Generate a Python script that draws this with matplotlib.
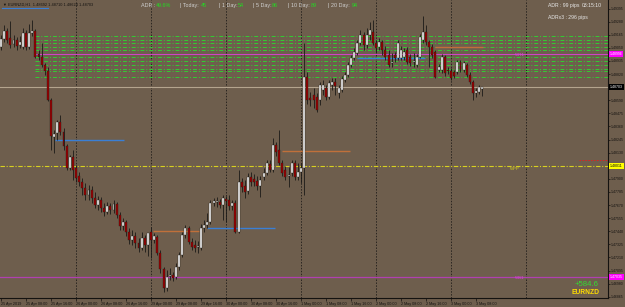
import matplotlib
matplotlib.use("Agg")
import matplotlib.pyplot as plt
import matplotlib.transforms as mtransforms
import numpy as np

# ---------------- data ----------------
bar_open = [1.49057,1.49128,1.49198,1.49136,1.49084,1.49119,1.49075,1.49057,1.49180,1.49057,
            1.49180,1.49198,1.48996,1.48970,1.48899,1.48847,1.48592,1.48267,1.48302,1.48399,
            1.48311,1.48188,1.47995,1.48092,1.47995,1.47925,1.47872,1.47819,1.47758,1.47802,
            1.47732,1.47670,1.47714,1.47644,1.47609,1.47661,1.47626,1.47679,1.47582,1.47486,
            1.47521,1.47433,1.47363,1.47398,1.47336,1.47293,1.47380,1.47319,1.47433,1.47363,
            1.47389,1.47249,1.47108,1.46941,1.47047,1.47056,1.47038,1.47126,1.47231,1.47407,
            1.47468,1.47345,1.47319,1.47301,1.47293,1.47468,1.47495,1.47521,1.47688,1.47696,
            1.47696,1.47670,1.47723,1.47714,1.47661,1.47688,1.47433,1.47872,1.47837,1.47793,
            1.47916,1.47898,1.47881,1.47837,1.47916,1.47951,1.48030,1.47977,1.48197,1.48153,
            1.48039,1.47977,1.47925,1.47951,1.48039,1.47916,1.47960,1.47995,1.48794,1.48610,
            1.48636,1.48618,1.48592,1.48680,1.48697,1.48618,1.48724,1.48750,1.48653,1.48680,
            1.48768,1.48812,1.48899,1.48961,1.49005,1.49092,1.49163,1.49075,1.49163,1.49189,
            1.49092,1.49057,1.49101,1.49031,1.48987,1.48917,1.48987,1.48961,1.48961,1.48970,
            1.49031,1.48970,1.48926,1.48899,1.48970,1.49119,1.49189,1.49101,1.49057,1.49013,
            1.48855,1.48855,1.48970,1.48855,1.48847,1.48838,1.48838,1.48926,1.48855,1.48899,
            1.48812,1.48750,1.48653,1.48662,1.48692]
bar_high = [1.49163,1.49251,1.49224,1.49286,1.49163,1.49145,1.49154,1.49224,1.49207,1.49259,
            1.49294,1.49215,1.49031,1.49092,1.48917,1.48882,1.48610,1.48329,1.48416,1.48460,
            1.48346,1.48206,1.48109,1.48153,1.48021,1.47960,1.47907,1.47863,1.47846,1.47837,
            1.47784,1.47749,1.47740,1.47688,1.47696,1.47688,1.47714,1.47696,1.47609,1.47556,
            1.47538,1.47468,1.47451,1.47433,1.47380,1.47433,1.47407,1.47398,1.47477,1.47424,
            1.47407,1.47275,1.47126,1.47099,1.47117,1.47082,1.47161,1.47257,1.47433,1.47495,
            1.47486,1.47380,1.47363,1.47354,1.47503,1.47538,1.47600,1.47714,1.47732,1.47740,
            1.47723,1.47758,1.47749,1.47758,1.47714,1.47714,1.47977,1.47907,1.47890,1.47951,
            1.47960,1.47942,1.47925,1.47925,1.47995,1.48065,1.48065,1.48258,1.48223,1.48329,
            1.48065,1.48012,1.48004,1.48065,1.48065,1.48039,1.48039,1.49092,1.48838,1.48662,
            1.48697,1.48653,1.48750,1.48768,1.48724,1.48768,1.48785,1.48785,1.48724,1.48803,
            1.48838,1.48926,1.48987,1.49049,1.49119,1.49207,1.49189,1.49224,1.49277,1.49294,
            1.49119,1.49136,1.49119,1.49066,1.49031,1.49005,1.49013,1.49119,1.49066,1.49049,
            1.49057,1.48996,1.49005,1.48996,1.49171,1.49330,1.49251,1.49119,1.49084,1.49031,
            1.48908,1.48996,1.48987,1.48882,1.48873,1.48855,1.48943,1.48943,1.48934,1.48917,
            1.48838,1.48768,1.48697,1.48724,1.48710]
bar_low = [1.49031,1.49101,1.49092,1.49049,1.49057,1.49031,1.49049,1.49040,1.49031,1.49040,
           1.49154,1.48961,1.48943,1.48882,1.48812,1.48583,1.48153,1.48127,1.48241,1.48285,
           1.48153,1.47977,1.47977,1.47890,1.47872,1.47837,1.47758,1.47714,1.47714,1.47688,
           1.47644,1.47626,1.47609,1.47574,1.47591,1.47591,1.47600,1.47556,1.47451,1.47451,
           1.47398,1.47328,1.47319,1.47293,1.47257,1.47275,1.47257,1.47222,1.47205,1.47336,
           1.47231,1.47073,1.46906,1.46915,1.47012,1.47003,1.47020,1.47099,1.47214,1.47380,
           1.47328,1.47275,1.47257,1.47249,1.47275,1.47433,1.47468,1.47503,1.47661,1.47653,
           1.47644,1.47538,1.47521,1.47626,1.47626,1.47424,1.47424,1.47784,1.47732,1.47767,
           1.47837,1.47837,1.47802,1.47740,1.47890,1.47934,1.47960,1.47960,1.48100,1.48021,
           1.47925,1.47890,1.47828,1.47925,1.47890,1.47890,1.47863,1.47758,1.48557,1.48539,
           1.48522,1.48487,1.48548,1.48636,1.48592,1.48601,1.48680,1.48636,1.48610,1.48662,
           1.48750,1.48794,1.48882,1.48943,1.48987,1.49075,1.49031,1.49049,1.49119,1.49075,
           1.49013,1.49031,1.48987,1.48943,1.48882,1.48882,1.48926,1.48943,1.48943,1.48943,
           1.48908,1.48891,1.48882,1.48882,1.48961,1.49092,1.49075,1.48882,1.48961,1.48785,
           1.48838,1.48829,1.48803,1.48820,1.48768,1.48785,1.48820,1.48838,1.48838,1.48794,
           1.48732,1.48592,1.48618,1.48645,1.48624]
bar_close = [1.49128,1.49198,1.49119,1.49075,1.49119,1.49066,1.49101,1.49180,1.49057,1.49180,
             1.49198,1.48970,1.48970,1.48899,1.48847,1.48592,1.48276,1.48293,1.48399,1.48311,
             1.48188,1.47995,1.48092,1.47977,1.47907,1.47872,1.47819,1.47758,1.47802,1.47732,
             1.47670,1.47714,1.47644,1.47609,1.47661,1.47626,1.47679,1.47582,1.47486,1.47521,
             1.47433,1.47363,1.47398,1.47336,1.47293,1.47380,1.47319,1.47424,1.47363,1.47398,
             1.47249,1.47108,1.46941,1.47038,1.47056,1.47029,1.47126,1.47231,1.47407,1.47468,
             1.47345,1.47301,1.47293,1.47310,1.47468,1.47495,1.47521,1.47688,1.47705,1.47705,
             1.47670,1.47732,1.47705,1.47661,1.47688,1.47433,1.47872,1.47828,1.47784,1.47916,
             1.47872,1.47872,1.47837,1.47890,1.47951,1.48039,1.47977,1.48197,1.48135,1.48039,
             1.47951,1.47916,1.47934,1.48039,1.47916,1.47960,1.47995,1.48794,1.48592,1.48592,
             1.48592,1.48504,1.48724,1.48724,1.48618,1.48741,1.48750,1.48715,1.48697,1.48776,
             1.48812,1.48899,1.48961,1.49013,1.49092,1.49163,1.49075,1.49163,1.49207,1.49092,
             1.49049,1.49101,1.49031,1.48970,1.48899,1.48926,1.48961,1.49092,1.49031,1.49013,
             1.48926,1.48917,1.48934,1.48970,1.49145,1.49189,1.49101,1.49057,1.48987,1.48794,
             1.48882,1.48970,1.48829,1.48847,1.48785,1.48803,1.48926,1.48855,1.48917,1.48812,
             1.48750,1.48653,1.48671,1.48706,1.48703]

price_ticks = [1.46865,1.46980,1.47095,1.47210,1.47325,1.47440,1.47555,1.47670,1.47785,1.47900,
               1.48015,1.48130,1.48245,1.48360,1.48475,1.48590,1.48705,1.48820,1.48935,1.49050,
               1.49165,1.49280,1.49395]
date_tick_bars = [0,8,16,24,32,40,48,56,64,72,80,88,96,104,112,120,128,136,144,152]
date_tick_labels = ["25 Apr 2019","25 Apr 08:00","25 Apr 16:00","26 Apr 00:00","26 Apr 08:00",
                    "26 Apr 16:00","29 Apr 00:00","29 Apr 08:00","29 Apr 16:00","30 Apr 00:00",
                    "30 Apr 08:00","30 Apr 16:00","1 May 00:00","1 May 08:00","1 May 16:00",
                    "2 May 00:00","2 May 08:00","2 May 16:00","3 May 00:00","3 May 08:00"]
day_separators = [24,48,72,96,120,144,168]

green_levels = [1.49154,1.49119,1.49092,1.49053,1.49031,1.48970,1.48934,1.48899,1.48868,1.48847,1.48794]
magenta_level = 1.48996
current_price = 1.48703
wpp_level = 1.48011
red_level = 1.48065
s1_level = 1.47035

seg_start = [17.3, 48.6, 66.0, 90.0, 114.0, 139.0]
seg_end = [39.4, 63.4, 87.7, 111.7, 135.7, 154.3]
seg_price = [1.48245, 1.47442, 1.47468, 1.48144, 1.48961, 1.49057]
seg_color = ["#3a7fd5", "#c0703a", "#3a7fd5", "#c0703a", "#3a7fd5", "#c0703a"]

adr_items = [("Today:", "45"), ("1 Day:", "54"), ("5 Day:", "86"), ("10 Day:", "89"), ("20 Day:", "94")]

# ---------------- figure ----------------
W, H = 625, 307
BG = "#6e5e4d"
fig = plt.figure(figsize=(W / 100, H / 100), dpi=100, facecolor=BG)
ax = fig.add_axes([0, (H - 297.5) / H, 608 / W, 297.5 / H])
ax.set_facecolor(BG)

n = len(bar_open)
xs = np.arange(n)
ax.set_xlim(-0.32, 194.2)
ax.set_ylim(1.46858, 1.49470)

FONT = "Liberation Sans"

# day separators
for d in day_separators:
    ax.axvline(d, color="#2a2520", lw=0.7, ls=(0, (1.5, 1.5)), zorder=1)

# levels
for lv in green_levels:
    ax.axhline(lv, xmin=35 / 608, color="#33cc33", lw=0.7, ls=(0, (4, 2, 1, 2)), zorder=2)
ax.axhline(magenta_level, xmin=35 / 608, color="#e040e0", lw=0.6, zorder=2)
ax.axhline(current_price, color="#b4a48e", lw=0.8, zorder=2)
ax.axhline(wpp_level, color="#d8d020", lw=0.8, ls=(0, (4, 1.5, 1, 1.5)), zorder=2)
ax.axhline(s1_level, color="#b040b0", lw=0.9, zorder=2)
ax.plot([185, 194.2], [red_level, red_level], color="#e02020", lw=0.7, ls=(0, (1.5, 1.5)), zorder=2)

for s, e, p, c in zip(seg_start, seg_end, seg_price, seg_color):
    ax.plot([s, e], [p, p], color=c, lw=1.0, zorder=3, solid_capstyle="butt")

# candles
o = np.array(bar_open); h = np.array(bar_high); l = np.array(bar_low); c = np.array(bar_close)
ax.vlines(xs, l, h, color="#1c1a18", lw=0.6, zorder=4)
bull = c >= o
body_bottom = np.minimum(o, c)
body_h = np.maximum(np.abs(c - o), 0.00003)
ax.bar(xs[bull], body_h[bull], bottom=body_bottom[bull], width=0.62, color="#f2f2f2",
       edgecolor="#1c1a18", linewidth=0.25, zorder=5)
ax.bar(xs[~bull], body_h[~bull], bottom=body_bottom[~bull], width=0.62, color="#9a0000",
       edgecolor="#1c1a18", linewidth=0.25, zorder=5)

# axes styling
for sp in ["top", "left"]:
    ax.spines[sp].set_visible(False)
ax.spines["right"].set_color("#141210")
ax.spines["bottom"].set_color("#141210")
ax.spines["right"].set_linewidth(0.8)
ax.spines["bottom"].set_linewidth(0.8)
ax.yaxis.tick_right()
ax.set_yticks(price_ticks)
covered = {1.48015, 1.48705}
ax.set_yticklabels(["" if v in covered else f"{v:.5f}" for v in price_ticks],
                   fontsize=2.5, color="#141210", family=FONT)
ax.tick_params(axis="y", length=1.2, width=0.5, color="#141210", pad=0.6)
ax.set_xticks(date_tick_bars)
ax.set_xticklabels(date_tick_labels, fontsize=2.7, color="#141210", family=FONT, ha="left")
ax.tick_params(axis="x", length=2, width=0.5, color="#141210", pad=1.5)

# price boxes on axis
tr = mtransforms.blended_transform_factory(ax.transAxes, ax.transData)
def box(price, text, fc, tc):
    ax.text(1.003, price, text, transform=tr, fontsize=2.5, color=tc, family=FONT,
            va="center", ha="left", clip_on=False, zorder=10,
            bbox=dict(boxstyle="square,pad=0.3", fc=fc, ec="none"))
box(magenta_level, "1.48996", "#ff00ff", "#ffffff")
box(current_price, "1.48703", "#000000", "#ffffff")
box(wpp_level, "1.48011", "#ffff00", "#000000")
box(s1_level, "1.47035", "#ff00ff", "#ffffff")

def px(x, y):
    return x / W, 1 - y / H

# header
fig.text(*px(3, 5), "\u25bc EURNZD,H1  1.48692 1.48710 1.48624 1.48703", fontsize=2.8,
         color="#141210", family=FONT, va="center")
fig.add_artist(plt.Line2D([2 / W, 48 / W], [1 - 7.5 / H, 1 - 7.5 / H], color="#3a7fd5", lw=0.8))

# ADR line at top
fs = 3.9
fig.text(*px(141, 5.5), "ADR :", fontsize=fs, color="#d0d0d0", family=FONT, va="center")
fig.text(*px(156, 5.5), "49.6%", fontsize=fs, color="#22dd22", family=FONT, va="center")
xpos = [180, 219, 253, 288, 328]
offs = [21, 19, 19, 23, 24]
for (lab, val), x0, off in zip(adr_items, xpos, offs):
    fig.text(*px(x0, 5.5), "| " + lab, fontsize=fs, color="#d0d0d0", family=FONT, va="center")
    fig.text(*px(x0 + off, 5.5), val, fontsize=fs, color="#22dd22", family=FONT, va="center")

# top right
fig.text(*px(548, 6), "ADR : 99 pips", fontsize=3.7, color="#e8e8e8", family=FONT, va="center")
fig.text(*px(582, 5.5), "03:15:10", fontsize=3.7, color="#e8e8e8", family=FONT, va="center")
fig.text(*px(548, 17), "ADRx3 : 296 pips", fontsize=3.7, color="#e8e8e8", family=FONT, va="center")

# pivot labels
ax.text(164.5, magenta_level - 0.00012, "WR1", fontsize=3.2, color="#e040e0", family=FONT, va="center")
ax.text(163.0, wpp_level - 0.00025, "WPP", fontsize=3.2, color="#d8d020", family=FONT, va="center")
ax.text(164.5, s1_level - 0.00008, "WS1", fontsize=3.2, color="#e040e0", family=FONT, va="center")

# bottom right
fig.text(*px(575, 284), "+584.6", fontsize=5.6, color="#33dd33", family=FONT, va="center")
fig.text(*px(572, 292), "EURNZD", fontsize=4.8, color="#ffdd00", family=FONT, va="center",
         fontweight="bold")

fig.savefig("out.png", dpi=100, facecolor=BG)
